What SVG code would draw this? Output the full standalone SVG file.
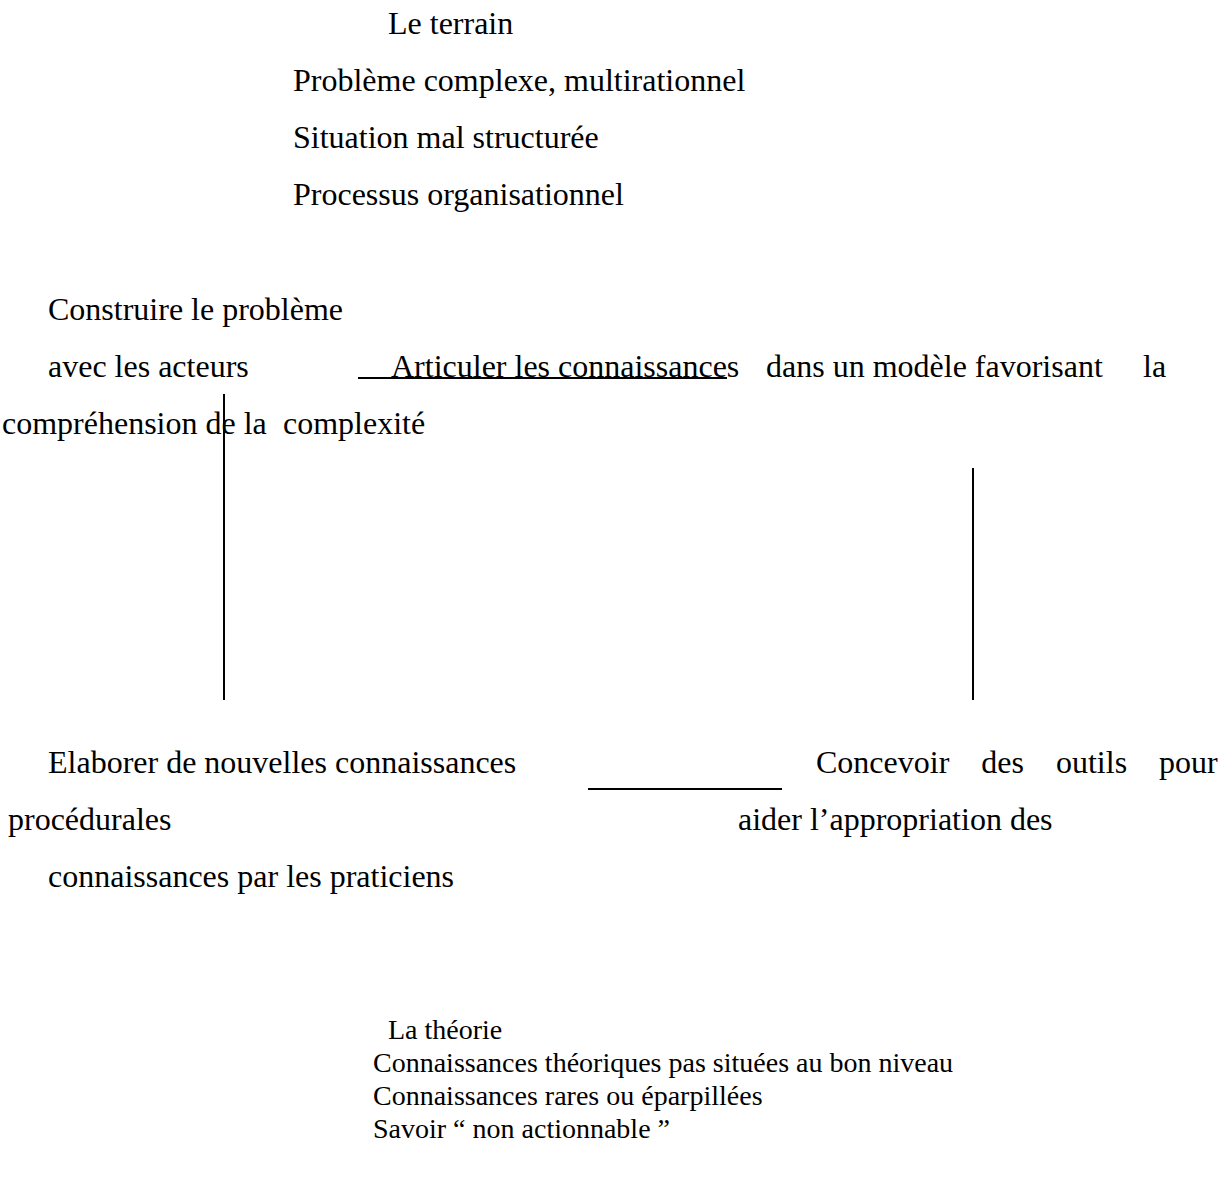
<svg xmlns="http://www.w3.org/2000/svg" width="1232" height="1178" viewBox="0 0 1232 1178">
<style>
text{font-family:"Liberation Serif","Times New Roman",serif;fill:#000;}
.t{font-size:32px;}
.s{font-size:28px;}
.ln{stroke:#000;stroke-width:2;fill:none;}
</style>
<rect width="1232" height="1178" fill="#fff"/>
<g id="terrain">
<text class="t" x="388" y="34">Le terrain</text>
<text class="t" x="293" y="91">Problème complexe, multirationnel</text>
<text class="t" x="293" y="148">Situation mal structurée</text>
<text class="t" x="293" y="205">Processus organisationnel</text>
</g>
<g id="construire">
<text class="t" x="48" y="320">Construire le problème</text>
<text class="t" x="48" y="377">avec les acteurs</text>
</g>
<g id="articuler">
<text class="t" x="391" y="377">Articuler les connaissances</text>
<text class="t" x="766" y="377">dans un modèle favorisant</text>
<text class="t" x="1143" y="377">la</text>
<text class="t" x="2" y="434">compréhension de la</text>
<text class="t" x="283" y="434">complexité</text>
</g>
<g id="elaborer">
<text class="t" x="48" y="773">Elaborer de nouvelles connaissances</text>
<text class="t" x="8" y="830">procédurales</text>
</g>
<g id="concevoir">
<text class="t" x="816" y="773" word-spacing="24">Concevoir des outils pour</text>
<text class="t" x="738" y="830">aider l’appropriation des</text>
<text class="t" x="48" y="887">connaissances par les praticiens</text>
</g>
<g id="theorie">
<text class="s" x="388" y="1039">La théorie</text>
<text class="s" x="373" y="1072">Connaissances théoriques pas situées au bon niveau</text>
<text class="s" x="373" y="1105">Connaissances rares ou éparpillées</text>
<text class="s" x="373" y="1138">Savoir “ non actionnable ”</text>
</g>
<g id="connectors">
<line class="ln" x1="358" y1="378" x2="727" y2="378"/>
<line class="ln" x1="224" y1="394" x2="224" y2="700"/>
<line class="ln" x1="973" y1="468" x2="973" y2="700"/>
<line class="ln" x1="588" y1="789" x2="782" y2="789"/>
</g>
</svg>
